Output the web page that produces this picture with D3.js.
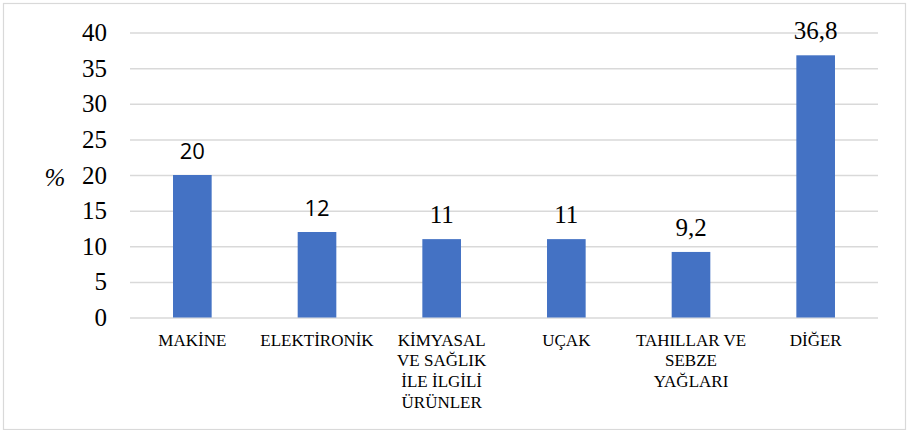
<!DOCTYPE html>
<html><head><meta charset="utf-8">
<script src="https://d3js.org/d3.v7.min.js"></script>
</head><body>
<div id="chart"></div>
<script>
// data
var categories = [
  ["MAKİNE"],
  ["ELEKTİRONİK"],
  ["KİMYASAL", "VE SAĞLIK", "İLE İLGİLİ", "ÜRÜNLER"],
  ["UÇAK"],
  ["TAHILLAR VE", "SEBZE", "YAĞLARI"],
  ["DİĞER"]
];
var values = [20, 12, 11, 11, 9.2, 36.8];
var valueLabels = ["20", "12", "11", "11", "9,2", "36,8"];
// the first two labels are in a sans face in the original
var labelSans = [true, true, false, false, false, false];
var yTicks = [0, 5, 10, 15, 20, 25, 30, 35, 40];

var SERIF = "Liberation Serif";
var SANS = "Open Sans";

d3.select("body").style("margin", "0px").style("background", "#fff");

var W = 907, H = 430;
var margin = {top: 32.5, right: 29, bottom: 112.5, left: 130};
var width = W - margin.left - margin.right;
var height = H - margin.top - margin.bottom;

var svg = d3.select("#chart").append("svg")
    .attr("width", W)
    .attr("height", H)
    .style("display", "block");

// outer frame
svg.append("rect")
    .attr("x", 3.5).attr("y", 3.5)
    .attr("width", W - 5).attr("height", H - 4)
    .attr("fill", "#fff")
    .attr("stroke", "#d9d9d9")
    .attr("stroke-width", 1.2);

var g = svg.append("g")
    .attr("transform", "translate(" + margin.left + "," + margin.top + ")");

var x = d3.scaleBand()
    .domain(d3.range(values.length))
    .range([0, width])
    .paddingInner(0.69)
    .paddingOuter(0.345);
var y = d3.scaleLinear().domain([0, 40]).range([height, 0]);

// gridlines
g.append("g")
    .call(d3.axisLeft(y).tickValues(yTicks).tickSize(-width).tickFormat(""))
    .call(function(s) {
        s.select(".domain").remove();
        s.selectAll("line").attr("stroke", "#d9d9d9").attr("stroke-width", 1.5);
    });

// y tick labels
g.append("g")
    .call(d3.axisLeft(y).tickValues(yTicks).tickSize(0).tickPadding(23))
    .call(function(s) {
        s.attr("font-family", SERIF).attr("font-size", 25);
        s.select(".domain").remove();
        s.selectAll("text")
            .attr("font-family", SERIF)
            .attr("font-size", 25)
            .attr("fill", "#000");
    });

// % label
svg.append("text")
    .attr("x", 55).attr("y", 186)
    .attr("text-anchor", "middle")
    .attr("font-family", SERIF)
    .attr("font-style", "italic")
    .attr("font-size", 25)
    .attr("fill", "#000")
    .text("%");

// bars
g.selectAll("rect.bar")
    .data(values)
    .enter().append("rect")
    .attr("class", "bar")
    .attr("x", function(d, i) { return x(i); })
    .attr("width", x.bandwidth())
    .attr("y", function(d) { return y(d); })
    .attr("height", function(d) { return height - y(d); })
    .attr("fill", "#4472c4");

// value labels
g.selectAll("text.val")
    .data(values)
    .enter().append("text")
    .attr("class", "val")
    .attr("x", function(d, i) { return x(i) + x.bandwidth() / 2; })
    .attr("y", function(d) { return y(d) - 16; })
    .attr("text-anchor", "middle")
    .attr("font-family", function(d, i) { return labelSans[i] ? SANS : SERIF; })
    .attr("font-size", function(d, i) { return labelSans[i] ? 22 : 25; })
    .attr("fill", "#000")
    .text(function(d, i) { return valueLabels[i]; });

// category labels
var cat = g.selectAll("text.cat")
    .data(categories)
    .enter().append("text")
    .attr("class", "cat")
    .attr("x", function(d, i) { return x(i) + x.bandwidth() / 2; })
    .attr("y", height + 28)
    .attr("text-anchor", "middle")
    .attr("font-family", SERIF)
    .attr("font-size", 17)
    .attr("fill", "#000");

cat.selectAll("tspan")
    .data(function(d) { return d; })
    .enter().append("tspan")
    .attr("x", function() { return d3.select(this.parentNode).attr("x"); })
    .attr("dy", function(d, j) { return j === 0 ? 0 : 20.7; })
    .text(function(d) { return d; });
</script>
</body></html>
